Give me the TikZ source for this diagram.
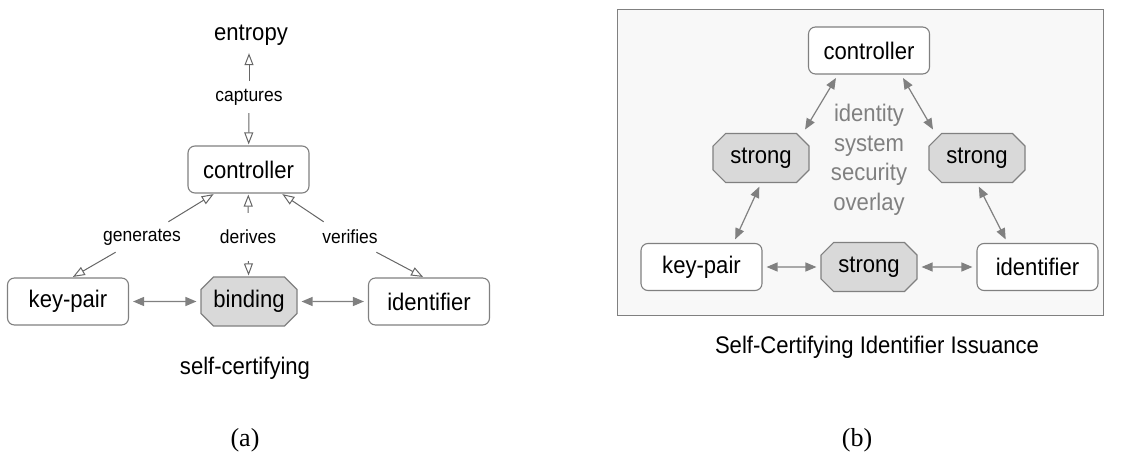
\documentclass[tikz,border=0pt]{standalone}
\usepackage{fontspec}
\setmainfont{Liberation Sans}[FakeStretch=0.92]
\newfontfamily\capserif{Liberation Serif}
\usetikzlibrary{shapes.misc,arrows.meta}
\definecolor{edgegray}{HTML}{808080}
\definecolor{opengray}{HTML}{666666}
\definecolor{octfill}{HTML}{D9D9D9}
\definecolor{bgfill}{HTML}{F8F8F8}
\definecolor{overlaygray}{HTML}{808080}
\begin{document}
\begin{tikzpicture}[x=1pt,y=-1pt,
  box/.style={draw=edgegray, line width=1.1pt, rounded corners=7pt, fill=white,
    minimum width=121pt, minimum height=47pt, inner sep=0pt,
    font=\fontsize{24}{28}\selectfont},
  oct/.style={chamfered rectangle, chamfered rectangle xsep=9pt,
    chamfered rectangle angle=45, draw=edgegray, fill=octfill, line width=1.1pt,
    minimum width=96pt, minimum height=49pt, inner sep=0pt,
    font=\fontsize{24}{28}\selectfont},
  lbl/.style={inner sep=0pt, font=\fontsize{19}{23}\selectfont},
  bigtxt/.style={inner sep=0pt, font=\fontsize{24}{28}\selectfont},
  subcap/.style={inner sep=0pt, font=\capserif\fontsize{26}{30}\selectfont},
  openarr/.style={draw=opengray, line width=1pt, shorten >=1pt,
    -{Triangle[open,length=12pt,width=9pt]}},
  biarr/.style={draw=edgegray, line width=1.2pt,
    {Triangle[length=11pt,width=9pt]}-{Triangle[length=11pt,width=9pt]},
    shorten <=4pt, shorten >=4pt},
]
\useasboundingbox (0,0) rectangle (1123,457);

% ---------- panel (a) ----------
\node[bigtxt, minimum height=34pt] (entropy) at (251,35) {entropy};
\node[lbl, minimum height=32pt] (captures) at (249,97) {captures};
\node[box] (ctrl) at (248.5,169.5) {controller};
\node[lbl, minimum height=30pt] (gen) at (142,237) {generates};
\node[lbl, minimum height=48pt] (der) at (248,237) {derives};
\node[lbl, minimum height=30pt] (ver) at (350,237) {verifies};
\node[box] (kp) at (68,301.5) {key-pair};
\node[oct] (bind) at (249,301.5) {binding};
\node[box] (id) at (429,301.5) {identifier};
\node[bigtxt] (selfcert) at (245,368) {self-certifying};
\node[subcap] (capa) at (245,440) {(a)};

\draw[openarr] (captures) -- (captures |- entropy.south);
\draw[openarr] (captures) -- (ctrl);
\draw[openarr] (gen.30) -- ([xshift=-34pt]ctrl.south);
\draw[openarr] (gen.210) -- ([xshift=4pt]kp.north);
\draw[openarr] (der) -- (ctrl);
\draw[openarr] (der) -- (bind);
\draw[openarr] (ver.150) -- ([xshift=33pt]ctrl.south);
\draw[openarr] (ver.330) -- ([xshift=-5pt]id.north);
\draw[biarr] (kp) -- (bind);
\draw[biarr] (bind) -- (id);

% ---------- panel (b) ----------
\path[draw=edgegray, fill=bgfill, line width=1pt] (617,10) rectangle (1103,315);
\node[box] (c2) at (869,50.5) {controller};
\node[oct] (sl) at (761,158) {strong};
\node[oct] (sr) at (977,158) {strong};
\node[inner sep=0pt, align=center, text=overlaygray,
  font=\fontsize{24}{29.5}\selectfont] (overlay) at (869,160) {identity\\system\\security\\overlay};
\node[box] (kp2) at (701.5,267) {key-pair};
\node[oct] (sb) at (869,267) {strong};
\node[box] (id2) at (1037.5,267) {identifier};
\node[bigtxt] (capbtxt) at (877,347) {Self-Certifying Identifier Issuance};
\node[subcap] (capb) at (857,440) {(b)};

\draw[biarr] ([xshift=-31pt]c2.south) -- ([xshift=42pt]sl.north);
\draw[biarr] ([xshift=32pt]c2.south) -- ([xshift=-42pt]sr.north);
\draw[biarr] (sl.south) -- ([xshift=32pt]kp2.north);
\draw[biarr] (sr.south) -- ([xshift=-30pt]id2.north);
\draw[biarr] (kp2) -- (sb);
\draw[biarr] (sb) -- (id2);
\end{tikzpicture}
\end{document}
